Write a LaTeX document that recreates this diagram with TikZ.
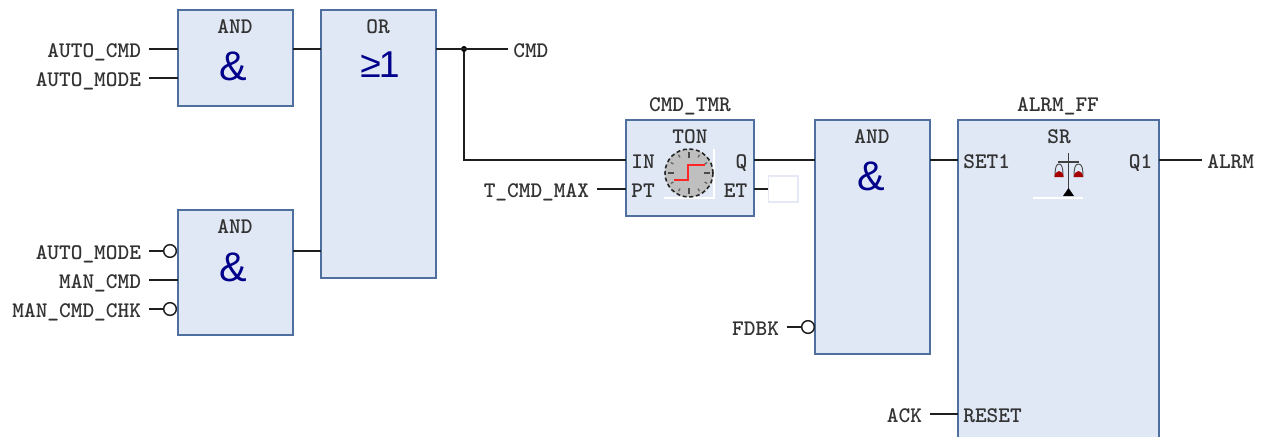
\documentclass[tikz,border=0pt]{standalone}
\usepackage{fontspec}
\newfontfamily\signfont{Liberation Sans}
\usetikzlibrary{arrows.meta}

\definecolor{blockfill}{HTML}{E0E8F5}
\definecolor{blockline}{HTML}{4F6F9F}
\definecolor{signblue}{HTML}{00008B}
\definecolor{wirecol}{HTML}{1E1E1E}
\definecolor{emptyline}{HTML}{E6E8F8}

\tikzset{
  wire/.style={draw=wirecol, line width=1.1pt},
  block/.style 2 args={draw=blockline, fill=blockfill, line width=1.2pt, rectangle, anchor=north west,
    inner sep=0pt, outer sep=0pt, minimum width=#1*.75pt, minimum height=#2*.75pt},
  tag/.style={font=\ttfamily\bfseries\fontsize{16.7}{18}\selectfont, text=black!80, inner ysep=0pt, outer sep=0pt,
    text height=13.5pt, text depth=1.5pt},
  extin/.style={tag, anchor=east, inner xsep=6pt},
  extout/.style={tag, anchor=west, inner xsep=4pt},
  pinin/.style={tag, anchor=west, inner xsep=4pt},
  pinout/.style={tag, anchor=east, inner xsep=5pt},
  title/.style={tag, anchor=center, inner xsep=0pt},
  sign/.style={font=\signfont\fontsize{31}{34}\selectfont, text=signblue, inner sep=0pt},
  negpin/.style={draw=wirecol, fill=white, line width=1.1pt, circle, inner sep=0pt, outer sep=0pt, minimum size=9.5pt},
  junction/.style={fill=black, circle, inner sep=0pt, minimum size=4.5pt}
}

\begin{document}
\begin{tikzpicture}[x=.75pt, y=-.75pt, >={Stealth[length=2.2mm]}]
  \useasboundingbox (0,0) rectangle (1267,436);
  \clip (0,0) rectangle (1267,436);

  % blocks
  \node[block={115}{96}] (andone) at (178,10) {};
  \node[block={115}{268}] (orblock) at (321,10) {};
  \node[block={115}{125}] (andtwo) at (178,210) {};
  \node[block={128}{96}] (tonblock) at (626,120) {};
  \node[block={115}{234}] (andthree) at (815,120) {};
  \node[block={201}{330}] (srblock) at (958,120) {};
  \node[draw=emptyline, line width=1pt, anchor=west, inner sep=0pt, minimum width=22pt, minimum height=19.5pt] (etbox) at (768,189) {};

  % block heads
  \node[title] (andonehead) at (235,25) {AND};
  \node[title] (orhead) at (378,25) {OR};
  \node[title] (andtwohead) at (235,225) {AND};
  \node[title] (tonhead) at (690,135) {TON};
  \node[title] (andthreehead) at (872,135) {AND};
  \node[title] (srhead) at (1059,135) {SR};
  \node[title] (tonname) at (690,103) {CMD\_TMR};
  \node[title] (srname) at (1058,103) {ALRM\_FF};
  \node[sign] (andonesign) at (233,66) {\&};
  \node[sign, font=\signfont\fontsize{28}{30}\selectfont] (orsign) at (380,65) {≥\kern-1.5pt 1};
  \node[sign] (andtwosign) at (233,267) {\&};
  \node[sign] (andthreesign) at (871,176) {\&};

  % outside labels
  \node[extin] (autocmd) at (149,49) {AUTO\_CMD};
  \node[extin] (automode) at (149,78) {AUTO\_MODE};
  \node[extin] (automodeneg) at (149,251) {AUTO\_MODE};
  \node[extin] (mancmd) at (149,280) {MAN\_CMD};
  \node[extin] (mancmdchk) at (149,309) {MAN\_CMD\_CHK};
  \node[extin] (tcmdmax) at (597,189) {T\_CMD\_MAX};
  \node[extin] (fdbk) at (787,327) {FDBK};
  \node[extin] (ack) at (930,414) {ACK};
  \node[extout] (cmd) at (508,49) {CMD};
  \node[extout] (alrm) at (1202,160) {ALRM};

  % pin labels
  \node[pinin] (inpin) at (626,160) {IN};
  \node[pinin] (ptpin) at (626,189) {PT};
  \node[pinout] (qpin) at (754,160) {Q};
  \node[pinout] (etpin) at (754,189) {ET};
  \node[pinin] (setpin) at (958,160) {SET1};
  \node[pinin] (resetpin) at (958,414) {RESET};
  \node[pinout] (qonepin) at (1159,160) {Q1};

  % inverted inputs
  \node[negpin] (negmode) at (170,251) {};
  \node[negpin] (negchk) at (170,309) {};
  \node[negpin] (negfdbk) at (808,327) {};
  \node[junction] (cmdjoin) at (464,49) {};

  % wires
  \draw[wire] (autocmd) -- (autocmd -| andone.west);
  \draw[wire] (automode) -- (automode -| andone.west);
  \draw[wire] (automodeneg) -- (negmode);
  \draw[wire] (mancmd) -- (mancmd -| andtwo.west);
  \draw[wire] (mancmdchk) -- (negchk);
  \draw[wire] (autocmd -| andone.east) -- (autocmd -| orblock.west);
  \draw[wire] (automodeneg -| andtwo.east) -- (automodeneg -| orblock.west);
  \draw[wire] (autocmd -| orblock.east) -- (cmd);
  \draw[wire] (cmdjoin) |- (inpin);
  \draw[wire] (tcmdmax) -- (ptpin);
  \draw[wire] (qpin) -- (qpin -| andthree.west);
  \draw[wire] (etpin) -- (etbox);
  \draw[wire] (fdbk) -- (negfdbk);
  \draw[wire] (setpin -| andthree.east) -- (setpin);
  \draw[wire] (ack) -- (resetpin);
  \draw[wire] (qonepin) -- (alrm);

  % timer picture
  \draw[white, line width=1pt] (664,198) -- (714,198) -- (714,149);
  \filldraw[fill=black!25, draw=black!85, line width=1.2pt, densely dashed] (689,173) circle (24);
  \foreach \a in {0,30,...,330}
    \draw[black!60, line width=1pt] (689,173) ++(\a:18) -- ++(\a:3);
  \foreach \a in {0,90,180,270}
    \draw[black!70, line width=1.8pt] (689,173) ++(\a:15) -- ++(\a:6);
  \draw[red!85!white, line width=1.8pt] (674,180) -- (688,180) -- (688,165) -- (705,165);

  % balance picture
  \draw[white, line width=1pt] (1033,198) -- (1083,198);
  \draw[black!75, line width=.8pt] (1068.5,153) -- (1068.5,190);
  \draw[black!75, line width=1.1pt] (1058,162) -- (1079,162);
  \draw[black!70, line width=.7pt] (1055,177) .. controls (1055,168) and (1056,164) .. (1059,164) .. controls (1062,164) and (1063,168) .. (1063,177);
  \draw[black!70, line width=.7pt] (1074,177) .. controls (1074,168) and (1075,164) .. (1078.5,164) .. controls (1082,164) and (1083,168) .. (1083,177);
  \fill[red!65!black] (1054.5,177) arc (180:360:4.5 and 6) -- cycle;
  \fill[red!65!black] (1074,177) arc (180:360:4.5 and 6) -- cycle;
  \fill[black] (1063,196) -- (1068.5,188) -- (1074,196) -- cycle;
\end{tikzpicture}
\end{document}
